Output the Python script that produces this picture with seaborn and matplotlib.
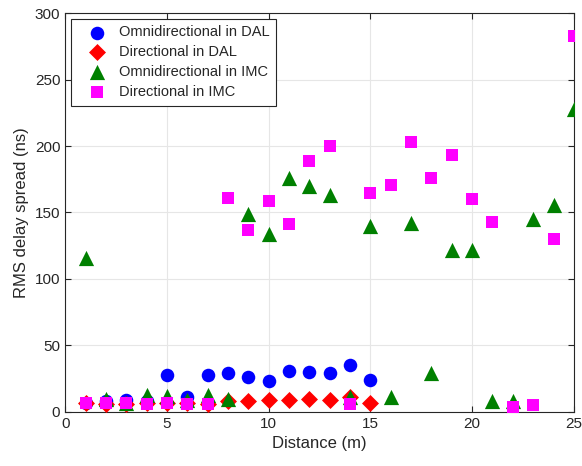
import matplotlib
matplotlib.use("Agg")
import matplotlib.pyplot as plt
import seaborn as sns
import pandas as pd
import numpy as np

distance = list(range(1, 26))
omni_dal_x = list(range(1, 16))
omni_dal = [7, 8, 9, 8, 28, 11, 28, 29, 26, 23, 31, 30, 29, 35, 24]
dir_dal_x = list(range(1, 16))
dir_dal = [7, 6, 6, 7, 7, 7, 6, 8, 8, 9, 9, 10, 9, 11, 7]
omni_imc = [116, 10, 7, 13, 12, 9, 13, 10, 149, 134, 176, 170, 163, 11, 140,
            11, 142, 29, 122, 122, 8, 8, 145, 156, 228]
dir_imc = [7, 7, 7, 6, 7, 6, 6, 161, 137, 159, 141, 189, 200, 6, 165,
           171, 203, 176, 193, 160, 143, 4, 5, 130, 283]

labels = ["Omnidirectional in DAL", "Directional in DAL",
          "Omnidirectional in IMC", "Directional in IMC"]

df = pd.concat([
    pd.DataFrame({"x": omni_dal_x, "y": omni_dal, "series": labels[0]}),
    pd.DataFrame({"x": dir_dal_x, "y": dir_dal, "series": labels[1]}),
    pd.DataFrame({"x": distance, "y": omni_imc, "series": labels[2]}),
    pd.DataFrame({"x": distance, "y": dir_imc, "series": labels[3]}),
])

sns.set_style("white")
plt.rcParams["font.family"] = ["Liberation Sans", "DejaVu Sans"]

fig = plt.figure(figsize=(5.82, 4.66), dpi=100)
ax = fig.add_axes([0.112, 0.116, 0.874, 0.856])

palette = {labels[0]: "#0000ff", labels[1]: "#ff0000",
           labels[2]: "#008000", labels[3]: "#ff00ff"}
markers = {labels[0]: "o", labels[1]: "D", labels[2]: "^", labels[3]: "s"}
sizes = {labels[0]: 95, labels[1]: 75, labels[2]: 120, labels[3]: 70}

for lab in labels:
    sub = df[df.series == lab]
    sns.scatterplot(data=sub, x="x", y="y", color=palette[lab], marker=markers[lab],
                    s=sizes[lab], linewidth=0, ax=ax, label=lab, zorder=3)

ax.set_xlim(0, 25)
ax.set_ylim(0, 300)
ax.set_xticks([0, 5, 10, 15, 20, 25])
ax.set_yticks([0, 50, 100, 150, 200, 250, 300])
ax.grid(True, color="#e6e6e6", linewidth=0.8)
ax.set_axisbelow(True)
for sp in ax.spines.values():
    sp.set_color("#262626")
    sp.set_linewidth(0.8)
ax.tick_params(direction="in", length=4, labelsize=11, colors="#262626",
               top=True, right=True, bottom=True, left=True)
ax.set_xlabel("Distance (m)", fontsize=12, color="#262626")
ax.set_ylabel("RMS delay spread (ns)", fontsize=12, color="#262626")

leg = ax.legend(loc="upper left", fontsize=10.5, frameon=True, fancybox=False,
                edgecolor="#262626", borderpad=0.45, handletextpad=0.25,
                handlelength=2.6, labelspacing=0.4, borderaxespad=0.4,
                framealpha=1)
leg.get_frame().set_linewidth(0.8)

fig.savefig("out.png", dpi=100)
